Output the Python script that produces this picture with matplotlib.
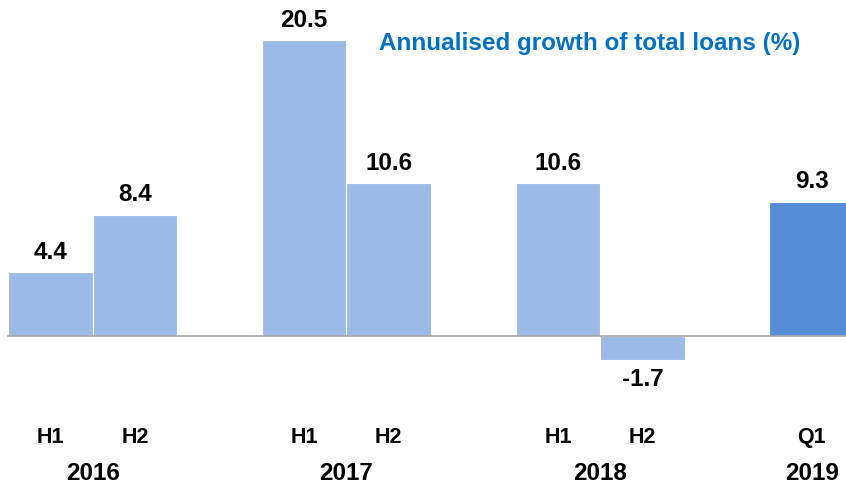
import matplotlib.pyplot as plt

plt.rcParams['font.family'] = ['Liberation Sans', 'DejaVu Sans']

periods = ['H1', 'H2', 'H1', 'H2', 'H1', 'H2', 'Q1']
years = ['2016', '2017', '2018', '2019']
values = [4.4, 8.4, 20.5, 10.6, 10.6, -1.7, 9.3]
slots = [0, 1, 3, 4, 6, 7, 9]
year_pos = [0.5, 3.5, 6.5, 9]
bar_colors = ['#9BBBE6'] * 6 + ['#558ED5']

fig = plt.figure(figsize=(8.46, 4.87), dpi=100)
ax = fig.add_axes([0, 0, 1, 1])

ax.bar(slots, values, width=1.0, color=bar_colors, edgecolor='white', linewidth=0.8)
ax.plot([-0.5, 9.6], [0, 0], color='#A6A6A6', linewidth=1.2)

for x, v in zip(slots, values):
    if v >= 0:
        ax.annotate(f'{v:.1f}', (x, v), xytext=(0, 6), textcoords='offset points',
                    ha='center', va='bottom', fontsize=17.5, fontweight='bold')
    else:
        ax.annotate(f'{v:.1f}', (x, v), xytext=(0, -6), textcoords='offset points',
                    ha='center', va='top', fontsize=17.5, fontweight='bold')

for x, p in zip(slots, periods):
    ax.text(x, -7.1, p, ha='center', va='center', fontsize=15.5, fontweight='bold')
for x, y in zip(year_pos, years):
    ax.text(x, -9.6, y, ha='center', va='center', fontsize=17.5, fontweight='bold')

ax.text(3.88, 20.3, 'Annualised growth of total loans (%)', color='#0070C0',
        fontsize=17.5, fontweight='bold', va='center', ha='left')

ax.set_xlim(-0.5946, 9.405)
ax.set_ylim(-10.52, 23.3)
ax.axis('off')

fig.savefig('out.png', dpi=100)
